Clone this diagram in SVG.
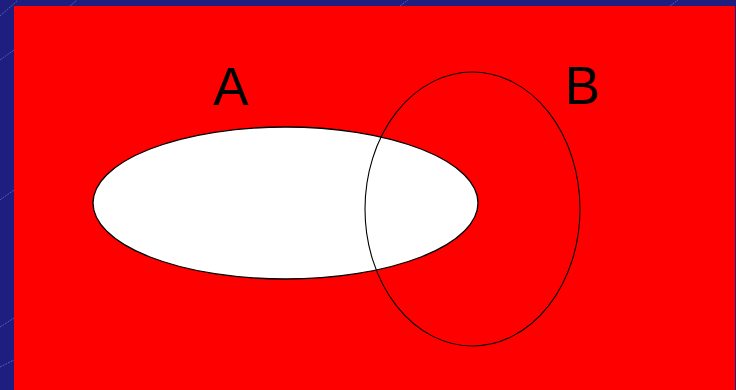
<svg xmlns="http://www.w3.org/2000/svg" width="736" height="390" viewBox="0 0 736 390">
<style>
.bg{fill:#1e1e80}
.ln{stroke:#5a5ab0;stroke-width:1;stroke-dasharray:2 1;fill:none}
.lbl{font-family:"Liberation Sans",Arial,sans-serif;font-size:53px;fill:#000}
</style>
<rect class="bg" x="0" y="0" width="736" height="390"/>
<g id="texture">
<line class="ln" x1="0" y1="16" x2="18" y2="0"/>
<line class="ln" x1="70" y1="6" x2="77" y2="0"/>
<line class="ln" x1="0" y1="327" x2="14" y2="318"/>
<line class="ln" x1="0" y1="367" x2="14" y2="360"/>
<line class="ln" x1="0" y1="60" x2="14" y2="50"/>
<line class="ln" x1="0" y1="200" x2="14" y2="190"/>
<line class="ln" x1="670" y1="6" x2="678" y2="0"/>
<line class="ln" x1="400" y1="6" x2="408" y2="0"/>
</g>
<g id="universe"><rect x="14" y="6" width="721" height="384" fill="#ff0000"/></g>
<g id="setA"><ellipse cx="285.5" cy="203" rx="192.5" ry="76" fill="#ffffff" stroke="#000" stroke-width="1.3"/></g>
<g id="setB"><ellipse cx="472.5" cy="209" rx="107.5" ry="137" fill="none" stroke="#000" stroke-width="1.1"/></g>
<g id="labels">
<text class="lbl" x="231" y="105" text-anchor="middle">A</text>
<text class="lbl" x="582.5" y="104" text-anchor="middle">B</text>
</g>
</svg>
